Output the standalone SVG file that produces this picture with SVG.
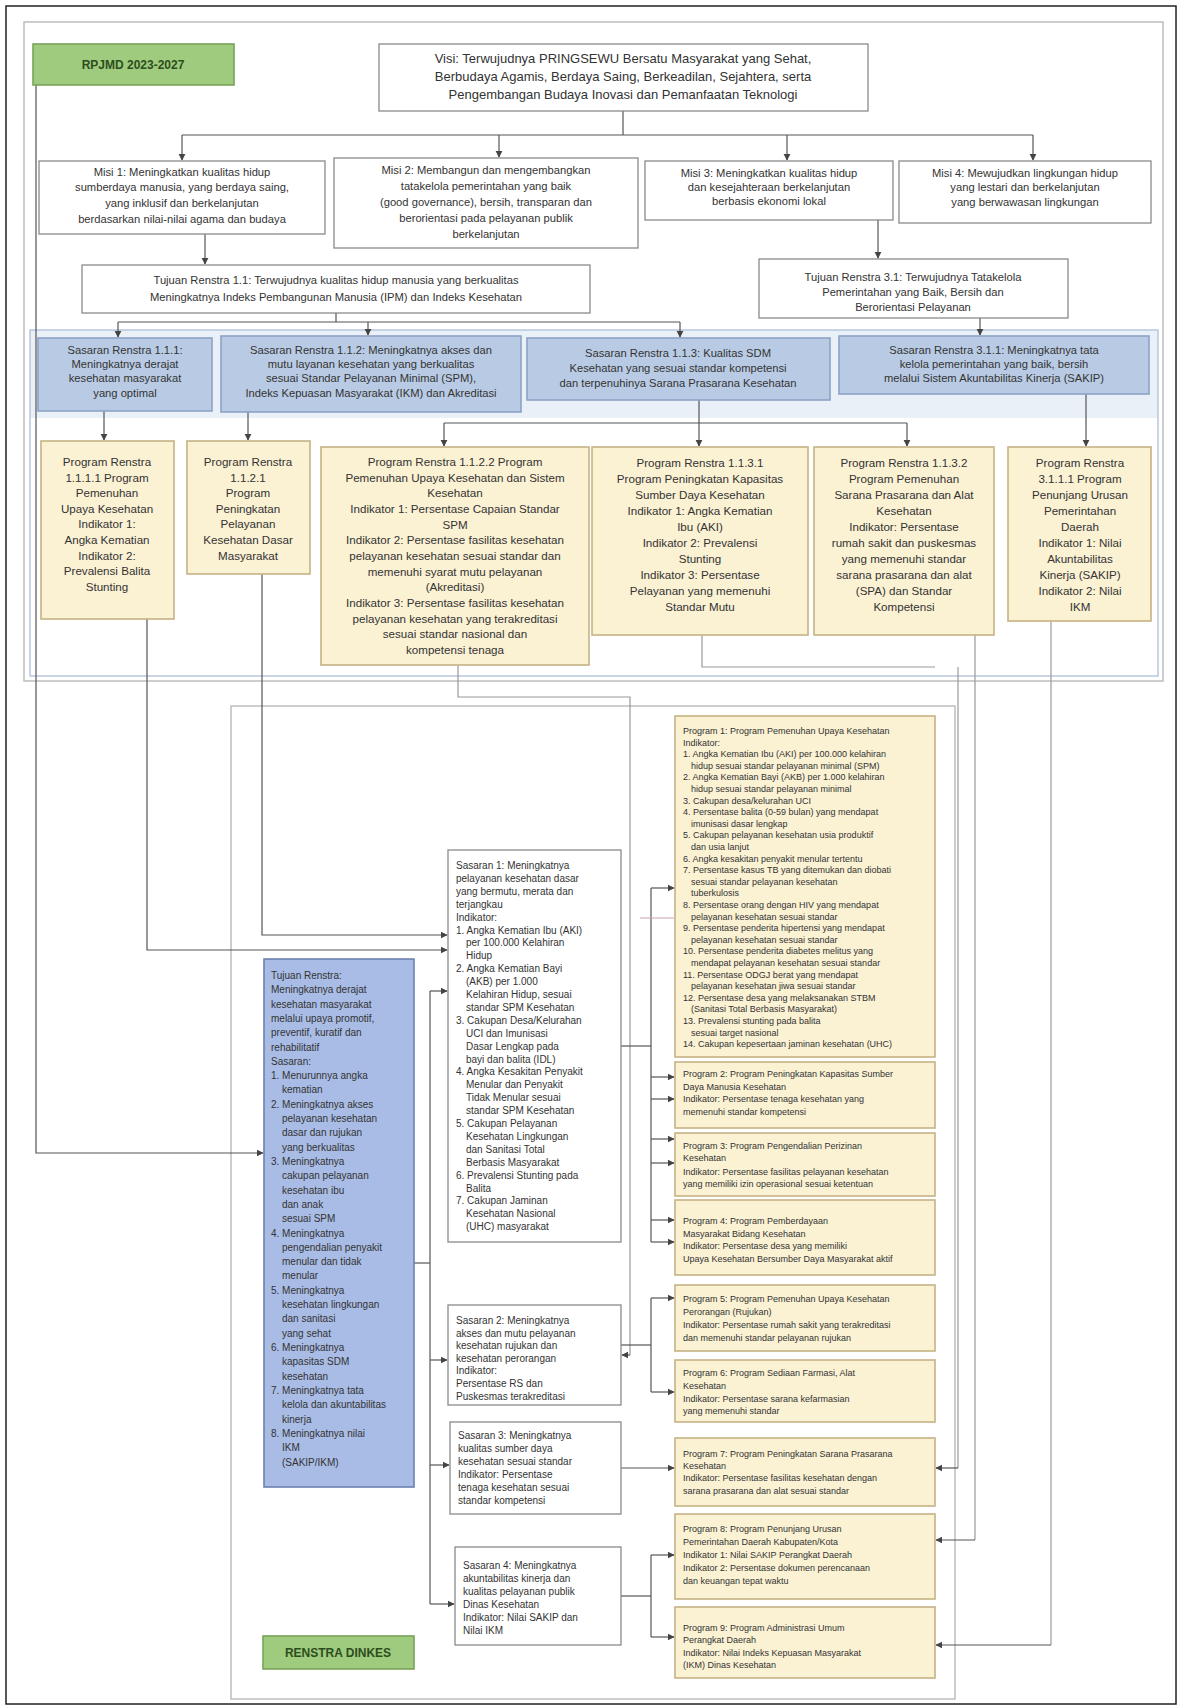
<svg xmlns="http://www.w3.org/2000/svg" width="1182" height="1708" viewBox="0 0 1182 1708">
<defs>
<marker id="ar" viewBox="0 0 10 10" refX="9" refY="5" markerWidth="6" markerHeight="6" orient="auto-start-reverse">
<path d="M0,0 L10,5 L0,10 z" fill="#444"/>
</marker>
<style>
text{font-family:"Liberation Sans",Arial,sans-serif;fill:#333}
.c{text-anchor:middle}
.f13{font-size:13px}
.f11{font-size:11.2px}
.f12{font-size:11.6px}
.f10{font-size:10px}
.f9{font-size:9px}
.box{fill:#fff;stroke:#8a8a8a;stroke-width:1.3}
.yel{fill:#fbf1d3;stroke:#c6b385;stroke-width:1.6}
.blu{fill:#b9cbe4;stroke:#8ca3c5;stroke-width:1.6}
.blu2{fill:#a9bce5;stroke:#6d81b0;stroke-width:1.6}
.grn{fill:#9ecb7d;stroke:#78a35a;stroke-width:1.6}
.frame{fill:none;stroke:#b8b8b8;stroke-width:1.4}
.ln{fill:none;stroke:#555;stroke-width:1.2}
.la{fill:none;stroke:#555;stroke-width:1.2;marker-end:url(#ar)}
.lg{fill:none;stroke:#9a9a9a;stroke-width:1.2}
.lb{fill:none;stroke:#b3c4dc;stroke-width:1.4}
.lk{fill:none;stroke:#c9a3b0;stroke-width:1}
.gt{font-weight:bold;fill:#2e4d1e;font-size:12px}
</style>
</defs>
<rect x="0" y="0" width="1182" height="1708" fill="#fff"/>
<rect x="6" y="6" width="1170" height="1698" fill="none" stroke="#222" stroke-width="1.5"/>

<!-- frames -->
<rect class="frame" x="24" y="22" width="1139" height="659"/>
<rect x="30" y="330" width="1128" height="88" fill="#eaf0f8" stroke="none"/>
<rect class="lb" x="30" y="330" width="1128" height="346"/>
<rect class="frame" x="231" y="706" width="724" height="993"/>

<g id="connectors">
<!-- visi to misi -->
<path class="ln" d="M623,111 V135"/>
<path class="ln" d="M182,135 H1033"/>
<path class="la" d="M182,135 V160"/>
<path class="la" d="M499,135 V157"/>
<path class="la" d="M787,135 V160"/>
<path class="la" d="M1033,135 V160"/>
<!-- misi to tujuan -->
<path class="la" d="M205,234 V264"/>
<path class="la" d="M878,220 V258"/>
<!-- tujuan to sasaran -->
<path class="ln" d="M336,313 V322"/>
<path class="ln" d="M118,322 H680"/>
<path class="la" d="M118,322 V337"/>
<path class="la" d="M368,322 V335"/>
<path class="la" d="M680,322 V337"/>
<path class="la" d="M980,318 V335"/>
<!-- sasaran to program -->
<path class="la" d="M104,411 V440"/>
<path class="la" d="M248,412 V440"/>
<path class="ln" d="M699,400 V423"/>
<path class="ln" d="M444,423 H907"/>
<path class="la" d="M444,423 V446"/>
<path class="la" d="M699,423 V446"/>
<path class="la" d="M907,423 V446"/>
<path class="la" d="M1086,394 V446"/>
<!-- long links from top to bottom section -->
<path class="la" d="M36,85 V1153 H263"/>
<path class="la" d="M147,619 V950 H447"/>
<path class="la" d="M262,574 V935 H447"/>
<path class="lg" d="M458,665 V697 H630 V1355"/>
<path class="la" d="M630,1355 H622"/>
<path class="lg" d="M702,635 V667 H935"/>
<path class="lg" d="M958,667 V1468"/>
<path class="la" d="M958,1468 H936"/>
<path class="lg" d="M975,635 V1540"/>
<path class="la" d="M975,1540 H936"/>
<path class="lg" d="M1051,621 V1645"/>
<path class="la" d="M1051,1645 H936"/>
<!-- blue box to sasaran boxes -->
<path class="ln" d="M414,1263 H430"/>
<path class="ln" d="M430,991 V1604"/>
<path class="la" d="M430,991 H447"/>
<path class="la" d="M430,1360 H447"/>
<path class="la" d="M430,1465 H449"/>
<path class="la" d="M430,1604 H454"/>
<!-- M1 to program boxes -->
<path class="ln" d="M621,1046 H651"/>
<path class="ln" d="M651,888 V1242"/>
<path class="la" d="M651,888 H674"/>
<path class="lk" d="M640,918 H674"/>
<path class="la" d="M651,1077 H674"/>
<path class="la" d="M651,1099 H674"/>
<path class="la" d="M651,1139 H674"/>
<path class="la" d="M651,1163 H674"/>
<path class="la" d="M651,1220 H674"/>
<path class="la" d="M651,1242 H674"/>
<!-- M2 -->
<path class="ln" d="M621,1345 H651"/>
<path class="ln" d="M651,1298 V1392"/>
<path class="la" d="M651,1298 H674"/>
<path class="la" d="M651,1392 H674"/>
<!-- M3 -->
<path class="la" d="M621,1468 H674"/>
<!-- M4 -->
<path class="ln" d="M621,1596 H651"/>
<path class="ln" d="M651,1555 V1637"/>
<path class="la" d="M651,1555 H674"/>
<path class="la" d="M651,1637 H674"/>
</g>

<!-- labels -->
<g id="rpjmd">
<rect class="grn" x="33" y="44" width="201" height="41"/>
<text class="gt c" x="133" y="69">RPJMD 2023-2027</text>
</g>
<g id="renstra">
<rect class="grn" x="263" y="1636" width="151" height="33"/>
<text class="gt c" x="338" y="1657">RENSTRA DINKES</text>
</g>

<g id="visi">
<rect class="box" x="379" y="44" width="489" height="67"/>
<text class="f13 c"><tspan x="623" y="63">Visi: Terwujudnya PRINGSEWU Bersatu Masyarakat yang Sehat,</tspan><tspan x="623" y="81">Berbudaya Agamis, Berdaya Saing, Berkeadilan, Sejahtera, serta</tspan><tspan x="623" y="99">Pengembangan Budaya Inovasi dan Pemanfaatan Teknologi</tspan></text>
</g>

<g id="misi1">
<rect class="box" x="39" y="161" width="286" height="73"/>
<text class="f11 c"><tspan x="182" y="176">Misi 1: Meningkatkan kualitas hidup</tspan><tspan x="182" y="191">sumberdaya manusia, yang berdaya saing,</tspan><tspan x="182" y="207">yang inklusif dan berkelanjutan</tspan><tspan x="182" y="223">berdasarkan nilai-nilai agama dan budaya</tspan></text>
</g>
<g id="misi2">
<rect class="box" x="334" y="158" width="304" height="90"/>
<text class="f11 c"><tspan x="486" y="174">Misi 2: Membangun dan mengembangkan</tspan><tspan x="486" y="190">tatakelola pemerintahan yang baik</tspan><tspan x="486" y="206">(good governance), bersih, transparan dan</tspan><tspan x="486" y="222">berorientasi pada pelayanan publik</tspan><tspan x="486" y="238">berkelanjutan</tspan></text>
</g>
<g id="misi3">
<rect class="box" x="645" y="161" width="248" height="59"/>
<text class="f11 c"><tspan x="769" y="177">Misi 3: Meningkatkan kualitas hidup</tspan><tspan x="769" y="191">dan kesejahteraan berkelanjutan</tspan><tspan x="769" y="205">berbasis ekonomi lokal</tspan></text>
</g>
<g id="misi4">
<rect class="box" x="899" y="161" width="252" height="62"/>
<text class="f11 c"><tspan x="1025" y="177">Misi 4: Mewujudkan lingkungan hidup</tspan><tspan x="1025" y="191">yang lestari dan berkelanjutan</tspan><tspan x="1025" y="206">yang berwawasan lingkungan</tspan></text>
</g>

<g id="tujuan1">
<rect class="box" x="82" y="265" width="508" height="48"/>
<text class="f11 c"><tspan x="336" y="284">Tujuan Renstra 1.1: Terwujudnya kualitas hidup manusia yang berkualitas</tspan><tspan x="336" y="301">Meningkatnya Indeks Pembangunan Manusia (IPM) dan Indeks Kesehatan</tspan></text>
</g>
<g id="tujuan2">
<rect class="box" x="759" y="259" width="309" height="59"/>
<text class="f11 c"><tspan x="913" y="281">Tujuan Renstra 3.1: Terwujudnya Tatakelola</tspan><tspan x="913" y="296">Pemerintahan yang Baik, Bersih dan</tspan><tspan x="913" y="311">Berorientasi Pelayanan</tspan></text>
</g>

<g id="sasaran1">
<rect class="blu" x="38" y="338" width="174" height="73"/>
<text class="f11 c"><tspan x="125" y="354">Sasaran Renstra 1.1.1:</tspan><tspan x="125" y="368">Meningkatnya derajat</tspan><tspan x="125" y="382">kesehatan masyarakat</tspan><tspan x="125" y="397">yang optimal</tspan></text>
</g>
<g id="sasaran2">
<rect class="blu" x="221" y="336" width="300" height="76"/>
<text class="f11 c"><tspan x="371" y="354">Sasaran Renstra 1.1.2: Meningkatnya akses dan</tspan><tspan x="371" y="368">mutu layanan kesehatan yang berkualitas</tspan><tspan x="371" y="382">sesuai Standar Pelayanan Minimal (SPM),</tspan><tspan x="371" y="397">Indeks Kepuasan Masyarakat (IKM) dan Akreditasi</tspan></text>
</g>
<g id="sasaran3">
<rect class="blu" x="527" y="338" width="303" height="62"/>
<text class="f11 c"><tspan x="678" y="357">Sasaran Renstra 1.1.3: Kualitas SDM</tspan><tspan x="678" y="372">Kesehatan yang sesuai standar kompetensi</tspan><tspan x="678" y="387">dan terpenuhinya Sarana Prasarana Kesehatan</tspan></text>
</g>
<g id="sasaran4">
<rect class="blu" x="839" y="336" width="310" height="58"/>
<text class="f11 c"><tspan x="994" y="354">Sasaran Renstra 3.1.1: Meningkatnya tata</tspan><tspan x="994" y="368">kelola pemerintahan yang baik, bersih</tspan><tspan x="994" y="382">melalui Sistem Akuntabilitas Kinerja (SAKIP)</tspan></text>
</g>

<g id="program1">
<rect class="yel" x="41" y="441" width="133" height="178"/>
<text class="f12 c"><tspan x="107" y="466">Program Renstra</tspan><tspan x="107" y="482">1.1.1.1 Program</tspan><tspan x="107" y="497">Pemenuhan</tspan><tspan x="107" y="513">Upaya Kesehatan</tspan><tspan x="107" y="528">Indikator 1:</tspan><tspan x="107" y="544">Angka Kematian</tspan><tspan x="107" y="560">Indikator 2:</tspan><tspan x="107" y="575">Prevalensi Balita</tspan><tspan x="107" y="591">Stunting</tspan></text>
</g>
<g id="program2">
<rect class="yel" x="187" y="441" width="123" height="133"/>
<text class="f12 c"><tspan x="248" y="466">Program Renstra</tspan><tspan x="248" y="482">1.1.2.1</tspan><tspan x="248" y="497">Program</tspan><tspan x="248" y="513">Peningkatan</tspan><tspan x="248" y="528">Pelayanan</tspan><tspan x="248" y="544">Kesehatan Dasar</tspan><tspan x="248" y="560">Masyarakat</tspan></text>
</g>
<g id="program3">
<rect class="yel" x="321" y="447" width="268" height="218"/>
<text class="f12 c"><tspan x="455" y="466">Program Renstra 1.1.2.2 Program</tspan><tspan x="455" y="482">Pemenuhan Upaya Kesehatan dan Sistem</tspan><tspan x="455" y="497">Kesehatan</tspan><tspan x="455" y="513">Indikator 1: Persentase Capaian Standar</tspan><tspan x="455" y="529">SPM</tspan><tspan x="455" y="544">Indikator 2: Persentase fasilitas kesehatan</tspan><tspan x="455" y="560">pelayanan kesehatan sesuai standar dan</tspan><tspan x="455" y="576">memenuhi syarat mutu pelayanan</tspan><tspan x="455" y="591">(Akreditasi)</tspan><tspan x="455" y="607">Indikator 3: Persentase fasilitas kesehatan</tspan><tspan x="455" y="623">pelayanan kesehatan yang terakreditasi</tspan><tspan x="455" y="638">sesuai standar nasional dan</tspan><tspan x="455" y="654">kompetensi tenaga</tspan></text>
</g>
<g id="program4">
<rect class="yel" x="592" y="447" width="216" height="188"/>
<text class="f12 c"><tspan x="700" y="467">Program Renstra 1.1.3.1</tspan><tspan x="700" y="483">Program Peningkatan Kapasitas</tspan><tspan x="700" y="499">Sumber Daya Kesehatan</tspan><tspan x="700" y="515">Indikator 1: Angka Kematian</tspan><tspan x="700" y="531">Ibu (AKI)</tspan><tspan x="700" y="547">Indikator 2: Prevalensi</tspan><tspan x="700" y="563">Stunting</tspan><tspan x="700" y="579">Indikator 3: Persentase</tspan><tspan x="700" y="595">Pelayanan yang memenuhi</tspan><tspan x="700" y="611">Standar Mutu</tspan></text>
</g>
<g id="program5">
<rect class="yel" x="814" y="447" width="180" height="188"/>
<text class="f12 c"><tspan x="904" y="467">Program Renstra 1.1.3.2</tspan><tspan x="904" y="483">Program Pemenuhan</tspan><tspan x="904" y="499">Sarana Prasarana dan Alat</tspan><tspan x="904" y="515">Kesehatan</tspan><tspan x="904" y="531">Indikator: Persentase</tspan><tspan x="904" y="547">rumah sakit dan puskesmas</tspan><tspan x="904" y="563">yang memenuhi standar</tspan><tspan x="904" y="579">sarana prasarana dan alat</tspan><tspan x="904" y="595">(SPA) dan Standar</tspan><tspan x="904" y="611">Kompetensi</tspan></text>
</g>
<g id="program6">
<rect class="yel" x="1008" y="447" width="143" height="174"/>
<text class="f12 c"><tspan x="1080" y="467">Program Renstra</tspan><tspan x="1080" y="483">3.1.1.1 Program</tspan><tspan x="1080" y="499">Penunjang Urusan</tspan><tspan x="1080" y="515">Pemerintahan</tspan><tspan x="1080" y="531">Daerah</tspan><tspan x="1080" y="547">Indikator 1: Nilai</tspan><tspan x="1080" y="563">Akuntabilitas</tspan><tspan x="1080" y="579">Kinerja (SAKIP)</tspan><tspan x="1080" y="595">Indikator 2: Nilai</tspan><tspan x="1080" y="611">IKM</tspan></text>
</g>

<g id="tujuan-renstra">
<rect class="blu2" x="264" y="959" width="150" height="528"/>
<text class="f10"><tspan x="271" y="979">Tujuan Renstra:</tspan><tspan x="271" y="993">Meningkatnya derajat</tspan><tspan x="271" y="1008">kesehatan masyarakat</tspan><tspan x="271" y="1022">melalui upaya promotif,</tspan><tspan x="271" y="1036">preventif, kuratif dan</tspan><tspan x="271" y="1051">rehabilitatif</tspan><tspan x="271" y="1065">Sasaran:</tspan><tspan x="271" y="1079">1. Menurunnya angka</tspan><tspan x="282" y="1093">kematian</tspan><tspan x="271" y="1108">2. Meningkatnya akses</tspan><tspan x="282" y="1122">pelayanan kesehatan</tspan><tspan x="282" y="1136">dasar dan rujukan</tspan><tspan x="282" y="1151">yang berkualitas</tspan><tspan x="271" y="1165">3. Meningkatnya</tspan><tspan x="282" y="1179">cakupan pelayanan</tspan><tspan x="282" y="1194">kesehatan ibu</tspan><tspan x="282" y="1208">dan anak</tspan><tspan x="282" y="1222">sesuai SPM</tspan><tspan x="271" y="1237">4. Meningkatnya</tspan><tspan x="282" y="1251">pengendalian penyakit</tspan><tspan x="282" y="1265">menular dan tidak</tspan><tspan x="282" y="1279">menular</tspan><tspan x="271" y="1294">5. Meningkatnya</tspan><tspan x="282" y="1308">kesehatan lingkungan</tspan><tspan x="282" y="1322">dan sanitasi</tspan><tspan x="282" y="1337">yang sehat</tspan><tspan x="271" y="1351">6. Meningkatnya</tspan><tspan x="282" y="1365">kapasitas SDM</tspan><tspan x="282" y="1380">kesehatan</tspan><tspan x="271" y="1394">7. Meningkatnya tata</tspan><tspan x="282" y="1408">kelola dan akuntabilitas</tspan><tspan x="282" y="1423">kinerja</tspan><tspan x="271" y="1437">8. Meningkatnya nilai</tspan><tspan x="282" y="1451">IKM</tspan><tspan x="282" y="1466">(SAKIP/IKM)</tspan></text>
</g>

<g id="sasaran-m1">
<rect class="box" x="448" y="850" width="173" height="392"/>
<text class="f10"><tspan x="456" y="869">Sasaran 1: Meningkatnya</tspan><tspan x="456" y="882">pelayanan kesehatan dasar</tspan><tspan x="456" y="895">yang bermutu, merata dan</tspan><tspan x="456" y="908">terjangkau</tspan><tspan x="456" y="921">Indikator:</tspan><tspan x="456" y="934">1. Angka Kematian Ibu (AKI)</tspan><tspan x="466" y="946">per 100.000 Kelahiran</tspan><tspan x="466" y="959">Hidup</tspan><tspan x="456" y="972">2. Angka Kematian Bayi</tspan><tspan x="466" y="985">(AKB) per 1.000</tspan><tspan x="466" y="998">Kelahiran Hidup, sesuai</tspan><tspan x="466" y="1011">standar SPM Kesehatan</tspan><tspan x="456" y="1024">3. Cakupan Desa/Kelurahan</tspan><tspan x="466" y="1037">UCI dan Imunisasi</tspan><tspan x="466" y="1050">Dasar Lengkap pada</tspan><tspan x="466" y="1063">bayi dan balita (IDL)</tspan><tspan x="456" y="1075">4. Angka Kesakitan Penyakit</tspan><tspan x="466" y="1088">Menular dan Penyakit</tspan><tspan x="466" y="1101">Tidak Menular sesuai</tspan><tspan x="466" y="1114">standar SPM Kesehatan</tspan><tspan x="456" y="1127">5. Cakupan Pelayanan</tspan><tspan x="466" y="1140">Kesehatan Lingkungan</tspan><tspan x="466" y="1153">dan Sanitasi Total</tspan><tspan x="466" y="1166">Berbasis Masyarakat</tspan><tspan x="456" y="1179">6. Prevalensi Stunting pada</tspan><tspan x="466" y="1192">Balita</tspan><tspan x="456" y="1204">7. Cakupan Jaminan</tspan><tspan x="466" y="1217">Kesehatan Nasional</tspan><tspan x="466" y="1230">(UHC) masyarakat</tspan></text>
</g>
<g id="sasaran-m2">
<rect class="box" x="448" y="1305" width="173" height="100"/>
<text class="f10"><tspan x="456" y="1324">Sasaran 2: Meningkatnya</tspan><tspan x="456" y="1337">akses dan mutu pelayanan</tspan><tspan x="456" y="1349">kesehatan rujukan dan</tspan><tspan x="456" y="1362">kesehatan perorangan</tspan><tspan x="456" y="1374">Indikator:</tspan><tspan x="456" y="1387">Persentase RS dan</tspan><tspan x="456" y="1400">Puskesmas terakreditasi</tspan></text>
</g>
<g id="sasaran-m3">
<rect class="box" x="450" y="1422" width="171" height="92"/>
<text class="f10"><tspan x="458" y="1439">Sasaran 3: Meningkatnya</tspan><tspan x="458" y="1452">kualitas sumber daya</tspan><tspan x="458" y="1465">kesehatan sesuai standar</tspan><tspan x="458" y="1478">Indikator: Persentase</tspan><tspan x="458" y="1491">tenaga kesehatan sesuai</tspan><tspan x="458" y="1504">standar kompetensi</tspan></text>
</g>
<g id="sasaran-m4">
<rect class="box" x="455" y="1547" width="166" height="98"/>
<text class="f10"><tspan x="463" y="1569">Sasaran 4: Meningkatnya</tspan><tspan x="463" y="1582">akuntabilitas kinerja dan</tspan><tspan x="463" y="1595">kualitas pelayanan publik</tspan><tspan x="463" y="1608">Dinas Kesehatan</tspan><tspan x="463" y="1621">Indikator: Nilai SAKIP dan</tspan><tspan x="463" y="1634">Nilai IKM</tspan></text>
</g>

<g id="prog-r1">
<rect class="yel" x="675" y="716" width="260" height="341"/>
<text class="f9"><tspan x="683" y="734">Program 1: Program Pemenuhan Upaya Kesehatan</tspan><tspan x="683" y="746">Indikator:</tspan><tspan x="683" y="757">1. Angka Kematian Ibu (AKI) per 100.000 kelahiran</tspan><tspan x="691" y="769">hidup sesuai standar pelayanan minimal (SPM)</tspan><tspan x="683" y="780">2. Angka Kematian Bayi (AKB) per 1.000 kelahiran</tspan><tspan x="691" y="792">hidup sesuai standar pelayanan minimal</tspan><tspan x="683" y="804">3. Cakupan desa/kelurahan UCI</tspan><tspan x="683" y="815">4. Persentase balita (0-59 bulan) yang mendapat</tspan><tspan x="691" y="827">imunisasi dasar lengkap</tspan><tspan x="683" y="838">5. Cakupan pelayanan kesehatan usia produktif</tspan><tspan x="691" y="850">dan usia lanjut</tspan><tspan x="683" y="862">6. Angka kesakitan penyakit menular tertentu</tspan><tspan x="683" y="873">7. Persentase kasus TB yang ditemukan dan diobati</tspan><tspan x="691" y="885">sesuai standar pelayanan kesehatan</tspan><tspan x="691" y="896">tuberkulosis</tspan><tspan x="683" y="908">8. Persentase orang dengan HIV yang mendapat</tspan><tspan x="691" y="920">pelayanan kesehatan sesuai standar</tspan><tspan x="683" y="931">9. Persentase penderita hipertensi yang mendapat</tspan><tspan x="691" y="943">pelayanan kesehatan sesuai standar</tspan><tspan x="683" y="954">10. Persentase penderita diabetes melitus yang</tspan><tspan x="691" y="966">mendapat pelayanan kesehatan sesuai standar</tspan><tspan x="683" y="978">11. Persentase ODGJ berat yang mendapat</tspan><tspan x="691" y="989">pelayanan kesehatan jiwa sesuai standar</tspan><tspan x="683" y="1001">12. Persentase desa yang melaksanakan STBM</tspan><tspan x="691" y="1012">(Sanitasi Total Berbasis Masyarakat)</tspan><tspan x="683" y="1024">13. Prevalensi stunting pada balita</tspan><tspan x="691" y="1036">sesuai target nasional</tspan><tspan x="683" y="1047">14. Cakupan kepesertaan jaminan kesehatan (UHC)</tspan></text>
</g>
<g id="prog-r2">
<rect class="yel" x="675" y="1062" width="260" height="66"/>
<text class="f9"><tspan x="683" y="1077">Program 2: Program Peningkatan Kapasitas Sumber</tspan><tspan x="683" y="1090">Daya Manusia Kesehatan</tspan><tspan x="683" y="1102">Indikator: Persentase tenaga kesehatan yang</tspan><tspan x="683" y="1115">memenuhi standar kompetensi</tspan></text>
</g>
<g id="prog-r3">
<rect class="yel" x="675" y="1133" width="260" height="63"/>
<text class="f9"><tspan x="683" y="1149">Program 3: Program Pengendalian Perizinan</tspan><tspan x="683" y="1161">Kesehatan</tspan><tspan x="683" y="1175">Indikator: Persentase fasilitas pelayanan kesehatan</tspan><tspan x="683" y="1187">yang memiliki izin operasional sesuai ketentuan</tspan></text>
</g>
<g id="prog-r4">
<rect class="yel" x="675" y="1200" width="260" height="75"/>
<text class="f9"><tspan x="683" y="1224">Program 4: Program Pemberdayaan</tspan><tspan x="683" y="1237">Masyarakat Bidang Kesehatan</tspan><tspan x="683" y="1249">Indikator: Persentase desa yang memiliki</tspan><tspan x="683" y="1262">Upaya Kesehatan Bersumber Daya Masyarakat aktif</tspan></text>
</g>
<g id="prog-r5">
<rect class="yel" x="675" y="1285" width="260" height="66"/>
<text class="f9"><tspan x="683" y="1302">Program 5: Program Pemenuhan Upaya Kesehatan</tspan><tspan x="683" y="1315">Perorangan (Rujukan)</tspan><tspan x="683" y="1328">Indikator: Persentase rumah sakit yang terakreditasi</tspan><tspan x="683" y="1341">dan memenuhi standar pelayanan rujukan</tspan></text>
</g>
<g id="prog-r6">
<rect class="yel" x="675" y="1360" width="260" height="62"/>
<text class="f9"><tspan x="683" y="1376">Program 6: Program Sediaan Farmasi, Alat</tspan><tspan x="683" y="1389">Kesehatan</tspan><tspan x="683" y="1402">Indikator: Persentase sarana kefarmasian</tspan><tspan x="683" y="1414">yang memenuhi standar</tspan></text>
</g>
<g id="prog-r7">
<rect class="yel" x="675" y="1438" width="260" height="68"/>
<text class="f9"><tspan x="683" y="1457">Program 7: Program Peningkatan Sarana Prasarana</tspan><tspan x="683" y="1469">Kesehatan</tspan><tspan x="683" y="1481">Indikator: Persentase fasilitas kesehatan dengan</tspan><tspan x="683" y="1494">sarana prasarana dan alat sesuai standar</tspan></text>
</g>
<g id="prog-r8">
<rect class="yel" x="675" y="1514" width="260" height="85"/>
<text class="f9"><tspan x="683" y="1532">Program 8: Program Penunjang Urusan</tspan><tspan x="683" y="1545">Pemerintahan Daerah Kabupaten/Kota</tspan><tspan x="683" y="1558">Indikator 1: Nilai SAKIP Perangkat Daerah</tspan><tspan x="683" y="1571">Indikator 2: Persentase dokumen perencanaan</tspan><tspan x="683" y="1584">dan keuangan tepat waktu</tspan></text>
</g>
<g id="prog-r9">
<rect class="yel" x="675" y="1607" width="260" height="71"/>
<text class="f9"><tspan x="683" y="1631">Program 9: Program Administrasi Umum</tspan><tspan x="683" y="1643">Perangkat Daerah</tspan><tspan x="683" y="1656">Indikator: Nilai Indeks Kepuasan Masyarakat</tspan><tspan x="683" y="1668">(IKM) Dinas Kesehatan</tspan></text>
</g>
</svg>
